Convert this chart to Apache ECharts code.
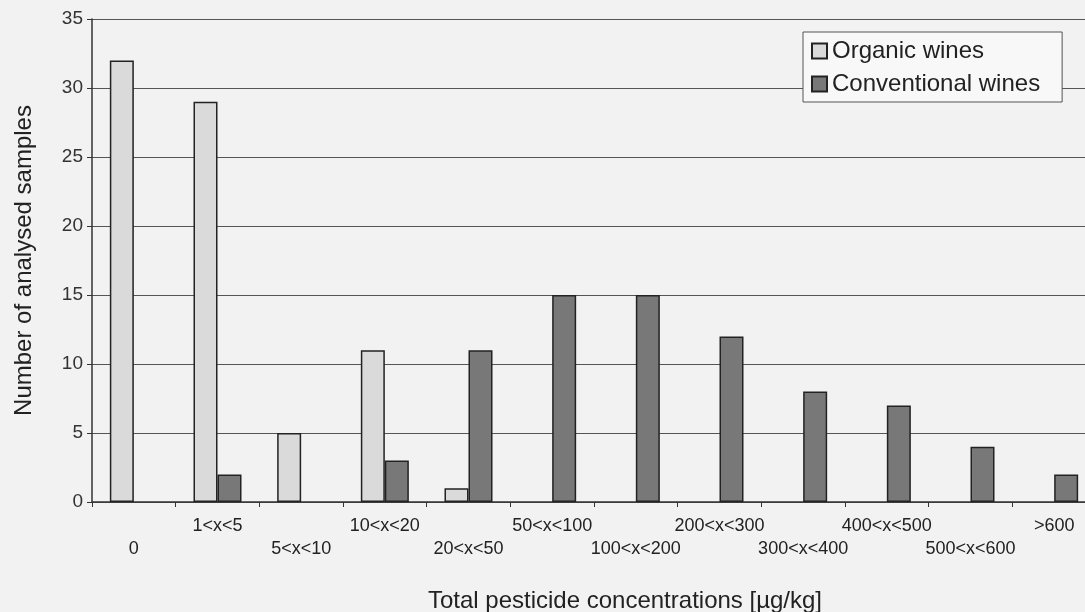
<!DOCTYPE html>
<html>
<head>
<meta charset="utf-8">
<script src="https://cdn.jsdelivr.net/npm/echarts@6/dist/echarts.min.js"></script>
<style>
html,body{margin:0;padding:0;background:#f2f2f2;}
#c{width:1085px;height:612px;}
</style>
</head>
<body>
<div id="c"></div>
<script>
const categories = ['0','1<x<5','5<x<10','10<x<20','20<x<50','50<x<100','100<x<200','200<x<300','300<x<400','400<x<500','500<x<600','>600'];
const organic = [32, 29, 5, 11, 1, 0, 0, 0, 0, 0, 0, 0];
const conventional = [0, 2, 0, 3, 11, 15, 15, 12, 8, 7, 4, 2];
const yTicks = [0, 5, 10, 15, 20, 25, 30, 35];

const hideZero = function (arr) { return arr.map(function (v) { return v === 0 ? '-' : v; }); };

const chart = echarts.init(document.getElementById('c'), null, {renderer:'canvas'});
const font = 'Liberation Sans, Arial, sans-serif';
chart.setOption({
  backgroundColor: '#f2f2f2',
  animation: false,
  textStyle: {fontFamily: font},
  grid: {left: 92, top: 19, width: 1004, height: 483, containLabel: false, outerBoundsMode: 'none'},
  legend: {
    orient: 'vertical', left: 803, top: 32,
    icon: 'rect',
    itemWidth: 15, itemHeight: 15, itemGap: 9,
    padding: [7, 22, 6, 8],
    backgroundColor: '#f8f8f8', borderColor: '#555', borderWidth: 1,
    textStyle: {fontSize: 24, color: '#222', fontFamily: font, padding: [0,0,0,0]},
    data: ['Organic wines', 'Conventional wines']
  },
  xAxis: {
    type: 'category', data: categories,
    name: 'Total pesticide concentrations [\u00b5g/kg]',
    nameLocation: 'middle', nameGap: 87,
    nameTextStyle: {fontSize: 24, color: '#222', fontFamily: font, padding: [0,0,0,62]},
    axisLine: {lineStyle: {color: '#333', width: 1.5}},
    axisTick: {show: true, length: 5, lineStyle: {color: '#333'}},
    axisLabel: {
      interval: 0, fontSize: 18, color: '#222', margin: 13, lineHeight: 23,
      formatter: function (v, i) { return i % 2 === 0 ? '\n' + v : v; }
    }
  },
  yAxis: {
    type: 'value', min: 0, max: 35, interval: 5,
    name: 'Number of analysed samples',
    nameLocation: 'middle', nameGap: 56,
    nameTextStyle: {fontSize: 24, color: '#222', fontFamily: font},
    axisLine: {show: true, lineStyle: {color: '#333', width: 1.5}},
    axisTick: {show: true, length: 5, inside: false, lineStyle: {color: '#333'}},
    axisLabel: {fontSize: 19, color: '#333', margin: 9,
      formatter: function (v) { return yTicks.indexOf(v) >= 0 ? String(v) : ''; }},
    splitLine: {show: true, lineStyle: {color: '#555', width: 1}}
  },
  series: [
    {
      name: 'Organic wines', type: 'bar', data: hideZero(organic),
      barWidth: 24, barGap: '0%',
      itemStyle: {color: '#dadada', borderColor: '#222', borderWidth: 1.5}
    },
    {
      name: 'Conventional wines', type: 'bar', data: hideZero(conventional),
      barWidth: 24, barGap: '0%',
      itemStyle: {color: '#787878', borderColor: '#222', borderWidth: 1.5}
    }
  ]
});
</script>
</body>
</html>
